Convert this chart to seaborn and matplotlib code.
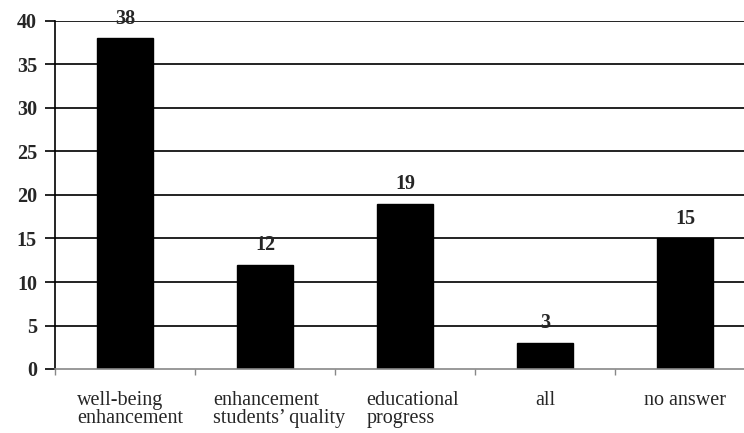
import matplotlib
matplotlib.use("Agg")
import matplotlib.pyplot as plt
import matplotlib.transforms as mtransforms
import seaborn as sns
import pandas as pd
import numpy as np

categories = ["well-being\nenhancement", "enhancement\nstudents\u2019 quality",
              "educational\nprogress", "all", "no answer"]
values = [38, 12, 19, 3, 15]
y_ticks = [0, 5, 10, 15, 20, 25, 30, 35, 40]

sns.set_theme(style="white")
plt.rcParams["font.family"] = ["Liberation Serif", "DejaVu Serif"]

df = pd.DataFrame({"pos": np.arange(len(categories)), "value": values})

fig = plt.figure(figsize=(7.44, 4.33), dpi=100)
W, H = 744, 433
left, right, top, bottom = 55, 755, 21, 369
ax = fig.add_axes([left / W, 1 - bottom / H, (right - left) / W, (bottom - top) / H])

sns.barplot(data=df, x="pos", y="value", native_scale=True, color="black",
            width=0.4, saturation=1, edgecolor="black", ax=ax, zorder=2)

ax.set_xlim(-0.5, len(categories) - 0.5)
ax.set_ylim(0, 40)
ax.set_yticks(y_ticks)
ax.set_yticklabels([str(t) for t in y_ticks], fontweight="bold", fontsize=14.5)

# horizontal gridlines
for t in y_ticks[1:]:
    ax.axhline(t, color="#222222", lw=1.4, zorder=1)

for s in ["top", "right"]:
    ax.spines[s].set_visible(False)
ax.spines["left"].set_color("black")
ax.spines["left"].set_linewidth(1.2)
ax.spines["bottom"].set_color("#888888")
ax.spines["bottom"].set_linewidth(1.2)

ax.tick_params(axis="y", which="both", left=True, length=7, width=1.2,
               color="black", pad=6)

# category separators on the x axis
ax.set_xticks(np.arange(len(categories) + 1) - 0.5, minor=True)
ax.tick_params(axis="x", which="minor", bottom=True, length=4, width=1, color="#888888")
ax.set_xticks(np.arange(len(categories)))
ax.set_xticklabels(categories, fontsize=14.5, multialignment="left", linespacing=0.92)
ax.tick_params(axis="x", which="major", bottom=False, pad=10)
ax.set_xlabel("")
ax.set_ylabel("")

# nudge the wrapped category labels slightly to the right
label_shift_px = [5, 14, 8, 0, 0]
for lab, dx in zip(ax.get_xticklabels(), label_shift_px):
    lab.set_transform(lab.get_transform() +
                      mtransforms.ScaledTranslation(dx / 100, 0, fig.dpi_scale_trans))

for i, v in enumerate(values):
    ax.annotate(str(v), (i, v), xytext=(0, 7), textcoords="offset points",
                ha="center", va="bottom", fontsize=14.5, fontweight="bold",
                zorder=4, annotation_clip=False)

fig.savefig("out.png", dpi=100)
